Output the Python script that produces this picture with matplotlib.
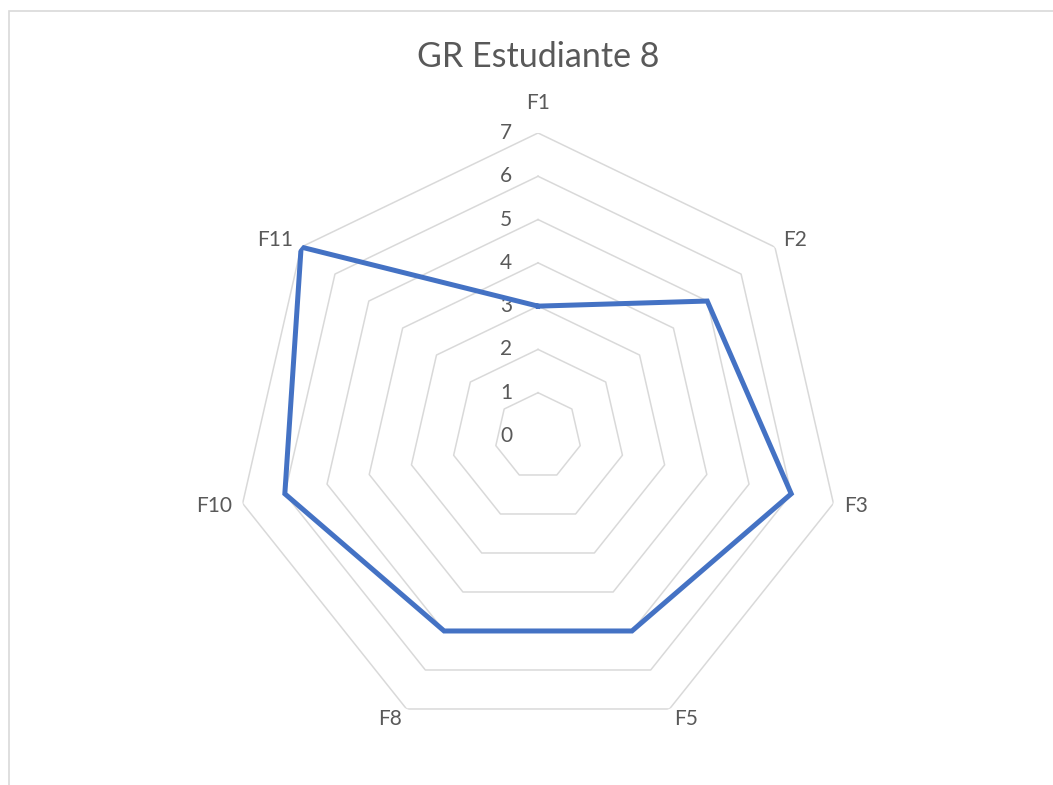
import matplotlib.pyplot as plt
from matplotlib.patches import Rectangle
import numpy as np

CATEGORIES = ['F1', 'F2', 'F3', 'F5', 'F8', 'F10', 'F11']
SCORES = [3, 5, 6, 5, 5, 6, 7]
RINGS = [0, 1, 2, 3, 4, 5, 6, 7]
TITLE = 'GR Estudiante 8'

TEXT_COLOR = '#595959'
GRID_COLOR = '#D9D9D9'
LINE_COLOR = '#4472C4'


def main():
    plt.rcParams['font.family'] = ['Lato', 'DejaVu Sans']

    fig = plt.figure(figsize=(10.53, 7.85), dpi=100)
    # light chart-area border
    fig.patches.append(Rectangle((9 / 1053, -0.1), 1.2, 1 - 11 / 785 + 0.1,
                                 transform=fig.transFigure, fill=False,
                                 edgecolor=GRID_COLOR, linewidth=1.2))

    ax = fig.add_axes([0.2232, 0.0586, 0.5755, 0.7720], projection='polar')
    ax.set_theta_zero_location('N')
    ax.set_theta_direction(-1)
    ax.set_ylim(0, 7)
    ax.axis('off')

    n = len(CATEGORIES)
    angles = np.linspace(0, 2 * np.pi, n, endpoint=False)
    closed = np.append(angles, angles[0])

    # heptagon gridlines
    for r in RINGS[1:]:
        ax.plot(closed, [r] * (n + 1), color=GRID_COLOR, linewidth=1.1, zorder=1)

    # scale labels along the F1 spoke
    for r in RINGS:
        ax.annotate(str(r), xy=(0, r), xytext=(-32, 0), textcoords='offset pixels',
                    ha='center', va='center', fontsize=15, color=TEXT_COLOR)

    # category labels, anchored on the side facing the chart
    for a, name in zip(angles, CATEGORIES):
        s = np.sin(a)
        if abs(s) < 0.1:
            ax.text(a, 7.69, name, ha='center', va='center', fontsize=15, color=TEXT_COLOR)
        else:
            ax.text(a, 7.25, name, ha='left' if s > 0 else 'right', va='center',
                    fontsize=15, color=TEXT_COLOR)

    values = SCORES + SCORES[:1]
    ax.plot(closed, values, color=LINE_COLOR, linewidth=3.6, solid_joinstyle='miter', zorder=3)

    fig.text(538 / 1053, 1 - 57 / 785, TITLE, ha='center', va='center',
             fontsize=24.5, color=TEXT_COLOR)

    fig.savefig('out.png', dpi=100, facecolor='white')


if __name__ == '__main__':
    main()
